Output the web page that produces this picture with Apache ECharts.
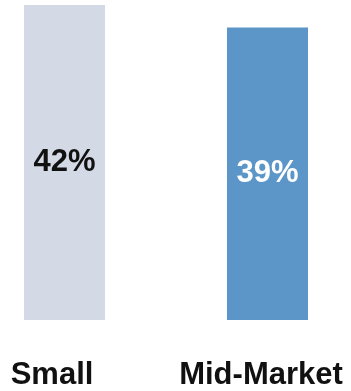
<!DOCTYPE html>
<html>
<head>
<meta charset="utf-8">
<script src="https://cdn.jsdelivr.net/npm/echarts@6/dist/echarts.min.js"></script>
<style>
  html, body { margin: 0; padding: 0; background: #ffffff; }
  #chart { width: 351px; height: 391px; }
</style>
</head>
<body>
<div id="chart"></div>
<script>
// Share by company size (percent)
const categories = ['Small', 'Mid-Market'];
const shares = [42, 39];
const barColors = ['#d3dae6', '#5c96c8'];
const valueLabelColors = ['#111111', '#ffffff'];
// nudge each category name a little to the left of its bar centre
const namePadRight = [25, 13];

const chart = echarts.init(document.getElementById('chart'), null, { renderer: 'canvas' });

chart.setOption({
  animation: false,
  grid: {
    left: -37, width: 406, top: 5, bottom: 71,
    containLabel: false,
    outerBoundsMode: 'none'
  },
  xAxis: {
    type: 'category',
    data: categories.map((c, i) => ({
      value: c,
      textStyle: { padding: [0, namePadRight[i], 0, 0] }
    })),
    axisLine: { show: false },
    axisTick: { show: false },
    axisLabel: {
      interval: 0,
      margin: 40,
      color: '#111111',
      fontFamily: 'Liberation Sans, Arial, sans-serif',
      fontWeight: 'bold',
      fontSize: 31
    }
  },
  yAxis: {
    type: 'value',
    min: 0,
    max: 42,
    show: false,
    splitLine: { show: false }
  },
  series: [{
    type: 'bar',
    barWidth: 81,
    data: shares.map((v, i) => ({
      value: v,
      itemStyle: { color: barColors[i] },
      label: { color: valueLabelColors[i] }
    })),
    label: {
      show: true,
      position: 'inside',
      formatter: '{c}%',
      fontFamily: 'Liberation Sans, Arial, sans-serif',
      fontWeight: 'bold',
      fontSize: 31
    }
  }]
});
</script>
</body>
</html>
